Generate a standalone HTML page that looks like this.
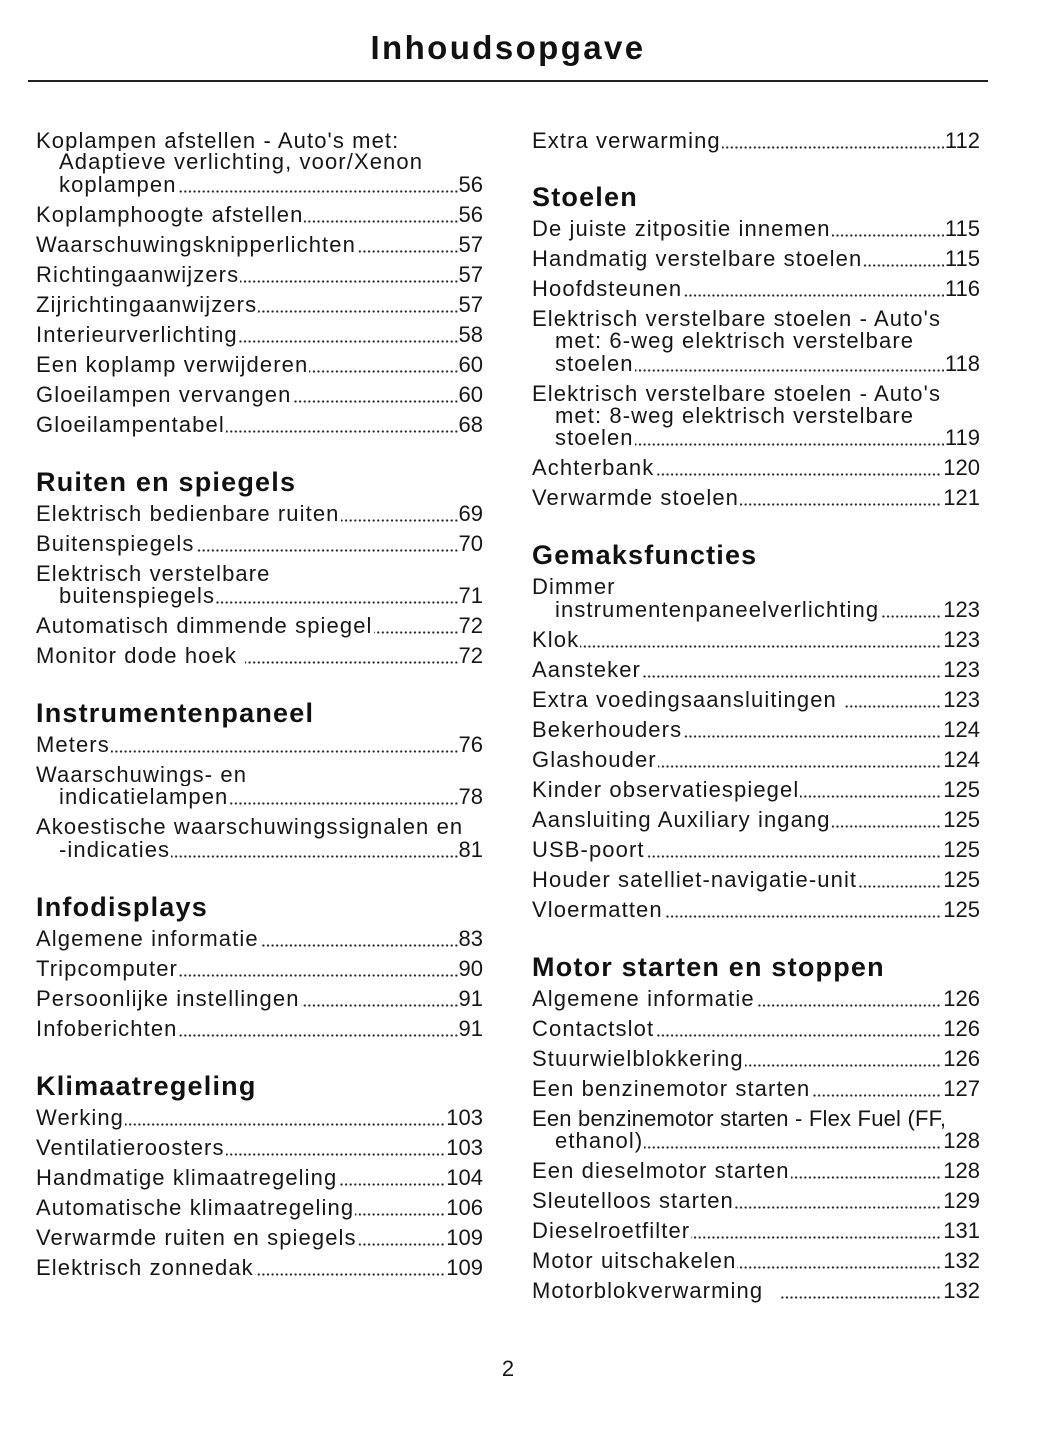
<!DOCTYPE html>
<html>
<head>
<meta charset="utf-8">
<style>
html,body{margin:0;padding:0;background:#fff;}
body{width:1048px;height:1449px;position:relative;overflow:hidden;font-family:"Liberation Sans",Arial,sans-serif;color:#161616;}
.title{position:absolute;left:0;width:1016px;top:28px;height:40px;line-height:40px;text-align:center;font-size:33px;font-weight:bold;letter-spacing:2.4px;color:#111;}
.rule{position:absolute;left:28px;width:960px;top:80px;height:1.5px;background:#222;}
.l{position:absolute;height:22px;line-height:22px;font-size:22px;letter-spacing:1.1px;white-space:nowrap;display:flex;justify-content:space-between;}
.L{left:36px;width:447px;}
.Li{left:59px;width:424px;}
.R{left:532px;width:448px;}
.Ri{left:555px;width:425px;}
.d{background-image:radial-gradient(circle,#222 0.95px,rgba(0,0,0,0) 1.3px);background-size:4.6px 3px;background-repeat:repeat-x;background-position:0 16px;}
.l span{background:#fff;}
.l span.t{padding-right:1px;}
.l span.n{padding-left:1px;letter-spacing:0;}
.h{position:absolute;height:30px;line-height:30px;font-size:27px;font-weight:bold;letter-spacing:1.2px;white-space:nowrap;color:#111;margin-top:-0.4px;}
.pg{position:absolute;left:0;width:1016px;text-align:center;font-size:22px;line-height:22px;height:22px;}
</style>
</head>
<body>
<div class="title">Inhoudsopgave</div>
<div class="rule"></div>

<!-- LEFT COLUMN -->
<div class="l L" style="top:130px"><span class="t">Koplampen afstellen - Auto's met:</span></div>
<div class="l Li" style="top:151px"><span class="t">Adaptieve verlichting, voor/Xenon</span></div>
<div class="l Li d" style="top:174px"><span class="t">koplampen</span><span class="n">56</span></div>
<div class="l L d" style="top:204px"><span class="t">Koplamphoogte afstellen</span><span class="n">56</span></div>
<div class="l L d" style="top:234px"><span class="t">Waarschuwingsknipperlichten</span><span class="n">57</span></div>
<div class="l L d" style="top:264px"><span class="t">Richtingaanwijzers</span><span class="n">57</span></div>
<div class="l L d" style="top:294px"><span class="t">Zijrichtingaanwijzers</span><span class="n">57</span></div>
<div class="l L d" style="top:324px"><span class="t">Interieurverlichting</span><span class="n">58</span></div>
<div class="l L d" style="top:354px"><span class="t">Een koplamp verwijderen</span><span class="n">60</span></div>
<div class="l L d" style="top:384px"><span class="t">Gloeilampen vervangen</span><span class="n">60</span></div>
<div class="l L d" style="top:414px"><span class="t">Gloeilampentabel</span><span class="n">68</span></div>

<div class="h" style="left:36px;top:467px">Ruiten en spiegels</div>
<div class="l L d" style="top:503px"><span class="t">Elektrisch bedienbare ruiten</span><span class="n">69</span></div>
<div class="l L d" style="top:533px"><span class="t">Buitenspiegels</span><span class="n">70</span></div>
<div class="l L" style="top:563px"><span class="t">Elektrisch verstelbare</span></div>
<div class="l Li d" style="top:585px"><span class="t">buitenspiegels</span><span class="n">71</span></div>
<div class="l L d" style="top:615px"><span class="t">Automatisch dimmende spiegel</span><span class="n">72</span></div>
<div class="l L d" style="top:645px"><span class="t">Monitor dode hoek&nbsp;</span><span class="n">72</span></div>

<div class="h" style="left:36px;top:698px">Instrumentenpaneel</div>
<div class="l L d" style="top:734px"><span class="t">Meters</span><span class="n">76</span></div>
<div class="l L" style="top:764px"><span class="t">Waarschuwings- en</span></div>
<div class="l Li d" style="top:786px"><span class="t">indicatielampen</span><span class="n">78</span></div>
<div class="l L" style="top:816px"><span class="t">Akoestische waarschuwingssignalen en</span></div>
<div class="l Li d" style="top:839px"><span class="t">-indicaties</span><span class="n">81</span></div>

<div class="h" style="left:36px;top:892px">Infodisplays</div>
<div class="l L d" style="top:928px"><span class="t">Algemene informatie</span><span class="n">83</span></div>
<div class="l L d" style="top:958px"><span class="t">Tripcomputer</span><span class="n">90</span></div>
<div class="l L d" style="top:988px"><span class="t">Persoonlijke instellingen</span><span class="n">91</span></div>
<div class="l L d" style="top:1018px"><span class="t">Infoberichten</span><span class="n">91</span></div>

<div class="h" style="left:36px;top:1071px">Klimaatregeling</div>
<div class="l L d" style="top:1107px"><span class="t">Werking</span><span class="n">103</span></div>
<div class="l L d" style="top:1137px"><span class="t">Ventilatieroosters</span><span class="n">103</span></div>
<div class="l L d" style="top:1167px"><span class="t">Handmatige klimaatregeling</span><span class="n">104</span></div>
<div class="l L d" style="top:1197px"><span class="t">Automatische klimaatregeling</span><span class="n">106</span></div>
<div class="l L d" style="top:1227px"><span class="t">Verwarmde ruiten en spiegels</span><span class="n">109</span></div>
<div class="l L d" style="top:1257px"><span class="t">Elektrisch zonnedak</span><span class="n">109</span></div>

<!-- RIGHT COLUMN -->
<div class="l R d" style="top:130px"><span class="t">Extra verwarming</span><span class="n">112</span></div>

<div class="h" style="left:532px;top:182px">Stoelen</div>
<div class="l R d" style="top:218px"><span class="t">De juiste zitpositie innemen</span><span class="n">115</span></div>
<div class="l R d" style="top:248px"><span class="t">Handmatig verstelbare stoelen</span><span class="n">115</span></div>
<div class="l R d" style="top:278px"><span class="t">Hoofdsteunen</span><span class="n">116</span></div>
<div class="l R" style="top:308px"><span class="t">Elektrisch verstelbare stoelen - Auto's</span></div>
<div class="l Ri" style="top:330px"><span class="t">met: 6-weg elektrisch verstelbare</span></div>
<div class="l Ri d" style="top:353px"><span class="t">stoelen</span><span class="n">118</span></div>
<div class="l R" style="top:383px"><span class="t">Elektrisch verstelbare stoelen - Auto's</span></div>
<div class="l Ri" style="top:405px"><span class="t">met: 8-weg elektrisch verstelbare</span></div>
<div class="l Ri d" style="top:427px"><span class="t">stoelen</span><span class="n">119</span></div>
<div class="l R d" style="top:457px"><span class="t">Achterbank</span><span class="n">120</span></div>
<div class="l R d" style="top:487px"><span class="t">Verwarmde stoelen</span><span class="n">121</span></div>

<div class="h" style="left:532px;top:540px">Gemaksfuncties</div>
<div class="l R" style="top:576px"><span class="t">Dimmer</span></div>
<div class="l Ri d" style="top:599px"><span class="t">instrumentenpaneelverlichting</span><span class="n">123</span></div>
<div class="l R d" style="top:629px"><span class="t">Klok</span><span class="n">123</span></div>
<div class="l R d" style="top:659px"><span class="t">Aansteker</span><span class="n">123</span></div>
<div class="l R d" style="top:689px"><span class="t">Extra voedingsaansluitingen&nbsp;</span><span class="n">123</span></div>
<div class="l R d" style="top:719px"><span class="t">Bekerhouders</span><span class="n">124</span></div>
<div class="l R d" style="top:749px"><span class="t">Glashouder</span><span class="n">124</span></div>
<div class="l R d" style="top:779px"><span class="t">Kinder observatiespiegel</span><span class="n">125</span></div>
<div class="l R d" style="top:809px"><span class="t">Aansluiting Auxiliary ingang</span><span class="n">125</span></div>
<div class="l R d" style="top:839px"><span class="t">USB-poort</span><span class="n">125</span></div>
<div class="l R d" style="top:869px"><span class="t">Houder satelliet-navigatie-unit</span><span class="n">125</span></div>
<div class="l R d" style="top:899px"><span class="t">Vloermatten</span><span class="n">125</span></div>

<div class="h" style="left:532px;top:952px">Motor starten en stoppen</div>
<div class="l R d" style="top:988px"><span class="t">Algemene informatie</span><span class="n">126</span></div>
<div class="l R d" style="top:1018px"><span class="t">Contactslot</span><span class="n">126</span></div>
<div class="l R d" style="top:1048px"><span class="t">Stuurwielblokkering</span><span class="n">126</span></div>
<div class="l R d" style="top:1078px"><span class="t">Een benzinemotor starten</span><span class="n">127</span></div>
<div class="l R" style="top:1108px;letter-spacing:0.2px"><span class="t">Een benzinemotor starten - Flex Fuel (FF,</span></div>
<div class="l Ri d" style="top:1130px"><span class="t">ethanol)</span><span class="n">128</span></div>
<div class="l R d" style="top:1160px"><span class="t">Een dieselmotor starten</span><span class="n">128</span></div>
<div class="l R d" style="top:1190px"><span class="t">Sleutelloos starten</span><span class="n">129</span></div>
<div class="l R d" style="top:1220px"><span class="t">Dieselroetfilter</span><span class="n">131</span></div>
<div class="l R d" style="top:1250px"><span class="t">Motor uitschakelen</span><span class="n">132</span></div>
<div class="l R d" style="top:1280px"><span class="t">Motorblokverwarming&nbsp;&nbsp;</span><span class="n">132</span></div>

<div class="pg" style="top:1358px">2</div>
</body>
</html>
